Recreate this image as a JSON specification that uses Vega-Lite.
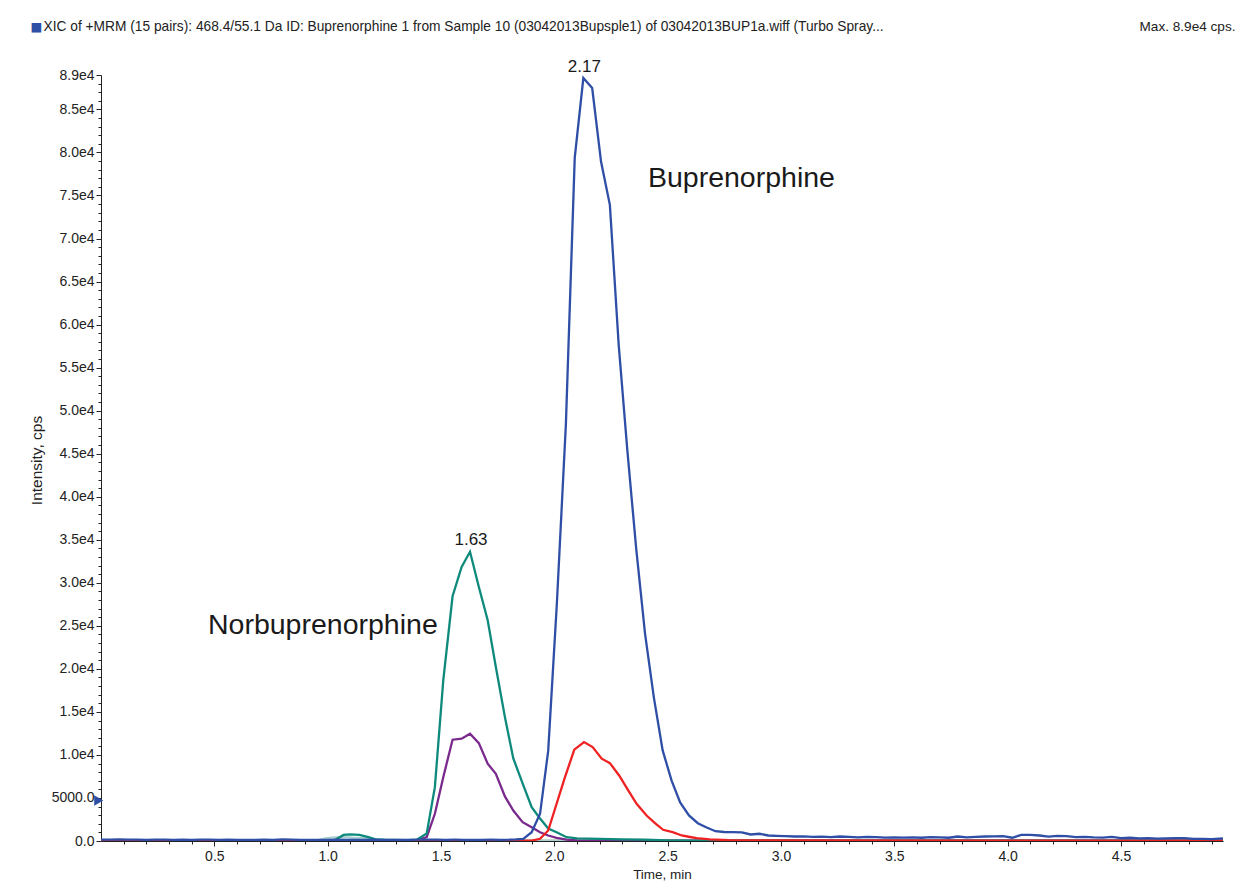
{
  "$schema": "https://vega.github.io/schema/vega-lite/v6.json",
  "width": 1122,
  "height": 766,
  "autosize": {"type": "none"},
  "padding": {"left": 101, "top": 75, "right": 36, "bottom": 49},
  "background": "white",
  "config": {"view": {"stroke": null}, "font": "Liberation Sans"},
  "datasets": {
    "series": [
      {"t": 0, "v": 0, "s": "Other2"}, {"t": 1, "v": 0, "s": "Other2"}, {"t": 2, "v": 0, "s": "Other2"}, {"t": 3, "v": 0, "s": "Other2"}, {"t": 4, "v": 0, "s": "Other2"}, {"t": 4.95, "v": 0, "s": "Other2"},

      {"t": 0, "v": 40, "s": "Other1"}, {"t": 0.5, "v": 40, "s": "Other1"}, {"t": 0.95, "v": 50, "s": "Other1"}, {"t": 0.99, "v": 300, "s": "Other1"}, {"t": 1.03, "v": 420, "s": "Other1"}, {"t": 1.07, "v": 440, "s": "Other1"}, {"t": 1.11, "v": 380, "s": "Other1"}, {"t": 1.15, "v": 350, "s": "Other1"}, {"t": 1.19, "v": 300, "s": "Other1"}, {"t": 1.23, "v": 150, "s": "Other1"}, {"t": 1.27, "v": 60, "s": "Other1"}, {"t": 1.5, "v": 40, "s": "Other1"}, {"t": 2.0, "v": 40, "s": "Other1"}, {"t": 3.0, "v": 40, "s": "Other1"}, {"t": 4.95, "v": 40, "s": "Other1"},

      {"t": 0, "v": 30, "s": "Norbup2"}, {"t": 0.5, "v": 30, "s": "Norbup2"}, {"t": 1.0, "v": 30, "s": "Norbup2"}, {"t": 1.39, "v": 60, "s": "Norbup2"}, {"t": 1.437, "v": 442, "s": "Norbup2"}, {"t": 1.473, "v": 3163, "s": "Norbup2"}, {"t": 1.51, "v": 7420, "s": "Norbup2"}, {"t": 1.551, "v": 11770, "s": "Norbup2"}, {"t": 1.591, "v": 11886, "s": "Norbup2"}, {"t": 1.628, "v": 12467, "s": "Norbup2"}, {"t": 1.667, "v": 11374, "s": "Norbup2"}, {"t": 1.706, "v": 8978, "s": "Norbup2"}, {"t": 1.742, "v": 7815, "s": "Norbup2"}, {"t": 1.782, "v": 5175, "s": "Norbup2"}, {"t": 1.819, "v": 3547, "s": "Norbup2"}, {"t": 1.86, "v": 2186, "s": "Norbup2"}, {"t": 1.9, "v": 1605, "s": "Norbup2"}, {"t": 1.937, "v": 1023, "s": "Norbup2"}, {"t": 1.973, "v": 640, "s": "Norbup2"}, {"t": 2.01, "v": 372, "s": "Norbup2"}, {"t": 2.054, "v": 150, "s": "Norbup2"}, {"t": 2.1, "v": 60, "s": "Norbup2"}, {"t": 2.5, "v": 30, "s": "Norbup2"}, {"t": 3.5, "v": 30, "s": "Norbup2"}, {"t": 4.95, "v": 30, "s": "Norbup2"},

      {"t": 0, "v": 60, "s": "Norbup1"}, {"t": 0.3, "v": 60, "s": "Norbup1"}, {"t": 0.6, "v": 60, "s": "Norbup1"}, {"t": 0.9, "v": 60, "s": "Norbup1"}, {"t": 1.03, "v": 80, "s": "Norbup1"}, {"t": 1.07, "v": 700, "s": "Norbup1"}, {"t": 1.1, "v": 760, "s": "Norbup1"}, {"t": 1.14, "v": 720, "s": "Norbup1"}, {"t": 1.18, "v": 450, "s": "Norbup1"}, {"t": 1.21, "v": 200, "s": "Norbup1"}, {"t": 1.25, "v": 150, "s": "Norbup1"}, {"t": 1.3, "v": 120, "s": "Norbup1"}, {"t": 1.35, "v": 100, "s": "Norbup1"}, {"t": 1.393, "v": 150, "s": "Norbup1"}, {"t": 1.437, "v": 872, "s": "Norbup1"}, {"t": 1.473, "v": 6257, "s": "Norbup1"}, {"t": 1.51, "v": 18666, "s": "Norbup1"}, {"t": 1.551, "v": 28435, "s": "Norbup1"}, {"t": 1.591, "v": 31843, "s": "Norbup1"}, {"t": 1.628, "v": 33600, "s": "Norbup1"}, {"t": 1.667, "v": 29517, "s": "Norbup1"}, {"t": 1.706, "v": 25644, "s": "Norbup1"}, {"t": 1.742, "v": 20213, "s": "Norbup1"}, {"t": 1.782, "v": 14398, "s": "Norbup1"}, {"t": 1.819, "v": 9595, "s": "Norbup1"}, {"t": 1.86, "v": 6687, "s": "Norbup1"}, {"t": 1.9, "v": 3931, "s": "Norbup1"}, {"t": 1.937, "v": 2617, "s": "Norbup1"}, {"t": 1.973, "v": 1454, "s": "Norbup1"}, {"t": 2.01, "v": 1023, "s": "Norbup1"}, {"t": 2.054, "v": 442, "s": "Norbup1"}, {"t": 2.1, "v": 300, "s": "Norbup1"}, {"t": 2.2, "v": 250, "s": "Norbup1"}, {"t": 2.3, "v": 200, "s": "Norbup1"}, {"t": 2.4, "v": 150, "s": "Norbup1"}, {"t": 2.5, "v": 80, "s": "Norbup1"}, {"t": 2.6, "v": 50, "s": "Norbup1"}, {"t": 3.5, "v": 40, "s": "Norbup1"}, {"t": 4.95, "v": 40, "s": "Norbup1"},

      {"t": 0, "v": 30, "s": "Bup2"}, {"t": 1.0, "v": 30, "s": "Bup2"}, {"t": 1.86, "v": 40, "s": "Bup2"}, {"t": 1.9, "v": 50, "s": "Bup2"}, {"t": 1.937, "v": 256, "s": "Bup2"}, {"t": 1.973, "v": 1221, "s": "Bup2"}, {"t": 2.01, "v": 4326, "s": "Bup2"}, {"t": 2.047, "v": 7420, "s": "Bup2"}, {"t": 2.088, "v": 10607, "s": "Bup2"}, {"t": 2.131, "v": 11490, "s": "Bup2"}, {"t": 2.169, "v": 10909, "s": "Bup2"}, {"t": 2.209, "v": 9560, "s": "Bup2"}, {"t": 2.245, "v": 9048, "s": "Bup2"}, {"t": 2.286, "v": 7618, "s": "Bup2"}, {"t": 2.326, "v": 5873, "s": "Bup2"}, {"t": 2.363, "v": 4326, "s": "Bup2"}, {"t": 2.407, "v": 2966, "s": "Bup2"}, {"t": 2.444, "v": 2070, "s": "Bup2"}, {"t": 2.48, "v": 1303, "s": "Bup2"}, {"t": 2.522, "v": 1023, "s": "Bup2"}, {"t": 2.562, "v": 640, "s": "Bup2"}, {"t": 2.598, "v": 465, "s": "Bup2"}, {"t": 2.628, "v": 326, "s": "Bup2"}, {"t": 2.686, "v": 200, "s": "Bup2"}, {"t": 2.77, "v": 100, "s": "Bup2"}, {"t": 3.0, "v": 60, "s": "Bup2"}, {"t": 4.0, "v": 50, "s": "Bup2"}, {"t": 4.95, "v": 50, "s": "Bup2"},

      {"t": 0.0, "v": 150, "s": "Bup1"}, {"t": 0.04, "v": 170, "s": "Bup1"}, {"t": 0.08, "v": 180, "s": "Bup1"}, {"t": 0.12, "v": 160, "s": "Bup1"}, {"t": 0.16, "v": 150, "s": "Bup1"}, {"t": 0.2, "v": 140, "s": "Bup1"}, {"t": 0.24, "v": 160, "s": "Bup1"}, {"t": 0.28, "v": 150, "s": "Bup1"}, {"t": 0.32, "v": 140, "s": "Bup1"}, {"t": 0.36, "v": 150, "s": "Bup1"}, {"t": 0.4, "v": 130, "s": "Bup1"}, {"t": 0.44, "v": 150, "s": "Bup1"}, {"t": 0.48, "v": 160, "s": "Bup1"}, {"t": 0.52, "v": 140, "s": "Bup1"}, {"t": 0.56, "v": 150, "s": "Bup1"}, {"t": 0.6, "v": 130, "s": "Bup1"}, {"t": 0.64, "v": 140, "s": "Bup1"}, {"t": 0.68, "v": 130, "s": "Bup1"}, {"t": 0.72, "v": 150, "s": "Bup1"}, {"t": 0.76, "v": 140, "s": "Bup1"}, {"t": 0.8, "v": 180, "s": "Bup1"}, {"t": 0.84, "v": 170, "s": "Bup1"}, {"t": 0.88, "v": 130, "s": "Bup1"}, {"t": 0.92, "v": 140, "s": "Bup1"}, {"t": 0.96, "v": 120, "s": "Bup1"}, {"t": 1.0, "v": 130, "s": "Bup1"}, {"t": 1.04, "v": 150, "s": "Bup1"}, {"t": 1.08, "v": 140, "s": "Bup1"}, {"t": 1.12, "v": 130, "s": "Bup1"}, {"t": 1.16, "v": 140, "s": "Bup1"}, {"t": 1.2, "v": 150, "s": "Bup1"}, {"t": 1.24, "v": 130, "s": "Bup1"}, {"t": 1.28, "v": 120, "s": "Bup1"}, {"t": 1.32, "v": 140, "s": "Bup1"}, {"t": 1.36, "v": 130, "s": "Bup1"}, {"t": 1.4, "v": 150, "s": "Bup1"}, {"t": 1.44, "v": 160, "s": "Bup1"}, {"t": 1.48, "v": 150, "s": "Bup1"}, {"t": 1.52, "v": 140, "s": "Bup1"}, {"t": 1.56, "v": 150, "s": "Bup1"}, {"t": 1.6, "v": 140, "s": "Bup1"}, {"t": 1.64, "v": 130, "s": "Bup1"}, {"t": 1.68, "v": 140, "s": "Bup1"}, {"t": 1.72, "v": 150, "s": "Bup1"}, {"t": 1.76, "v": 140, "s": "Bup1"}, {"t": 1.8, "v": 150, "s": "Bup1"}, {"t": 1.83, "v": 180, "s": "Bup1"},
      {"t": 1.863, "v": 256, "s": "Bup1"}, {"t": 1.9, "v": 1023, "s": "Bup1"}, {"t": 1.937, "v": 3163, "s": "Bup1"}, {"t": 1.973, "v": 10500, "s": "Bup1"}, {"t": 2.011, "v": 27505, "s": "Bup1"}, {"t": 2.051, "v": 48439, "s": "Bup1"}, {"t": 2.09, "v": 79375, "s": "Bup1"}, {"t": 2.128, "v": 88650, "s": "Bup1"}, {"t": 2.167, "v": 87481, "s": "Bup1"}, {"t": 2.206, "v": 78944, "s": "Bup1"}, {"t": 2.245, "v": 73908, "s": "Bup1"}, {"t": 2.284, "v": 57627, "s": "Bup1"}, {"t": 2.322, "v": 45415, "s": "Bup1"}, {"t": 2.361, "v": 34018, "s": "Bup1"}, {"t": 2.4, "v": 24132, "s": "Bup1"}, {"t": 2.439, "v": 16689, "s": "Bup1"}, {"t": 2.478, "v": 10525, "s": "Bup1"}, {"t": 2.517, "v": 7036, "s": "Bup1"}, {"t": 2.555, "v": 4478, "s": "Bup1"}, {"t": 2.594, "v": 2966, "s": "Bup1"}, {"t": 2.633, "v": 2070, "s": "Bup1"}, {"t": 2.672, "v": 1570, "s": "Bup1"}, {"t": 2.711, "v": 1140, "s": "Bup1"}, {"t": 2.749, "v": 1047, "s": "Bup1"}, {"t": 2.788, "v": 1023, "s": "Bup1"}, {"t": 2.827, "v": 1000, "s": "Bup1"}, {"t": 2.866, "v": 756, "s": "Bup1"}, {"t": 2.905, "v": 840, "s": "Bup1"}, {"t": 2.944, "v": 640, "s": "Bup1"},
      {"t": 2.98, "v": 600, "s": "Bup1"}, {"t": 3.02, "v": 560, "s": "Bup1"}, {"t": 3.06, "v": 520, "s": "Bup1"}, {"t": 3.1, "v": 540, "s": "Bup1"}, {"t": 3.14, "v": 480, "s": "Bup1"}, {"t": 3.18, "v": 500, "s": "Bup1"}, {"t": 3.22, "v": 460, "s": "Bup1"}, {"t": 3.26, "v": 520, "s": "Bup1"}, {"t": 3.3, "v": 470, "s": "Bup1"}, {"t": 3.34, "v": 430, "s": "Bup1"}, {"t": 3.38, "v": 480, "s": "Bup1"}, {"t": 3.42, "v": 440, "s": "Bup1"}, {"t": 3.46, "v": 400, "s": "Bup1"}, {"t": 3.5, "v": 430, "s": "Bup1"}, {"t": 3.54, "v": 390, "s": "Bup1"}, {"t": 3.58, "v": 420, "s": "Bup1"}, {"t": 3.62, "v": 380, "s": "Bup1"}, {"t": 3.66, "v": 460, "s": "Bup1"}, {"t": 3.7, "v": 420, "s": "Bup1"}, {"t": 3.74, "v": 380, "s": "Bup1"}, {"t": 3.78, "v": 520, "s": "Bup1"}, {"t": 3.82, "v": 430, "s": "Bup1"}, {"t": 3.86, "v": 480, "s": "Bup1"}, {"t": 3.9, "v": 520, "s": "Bup1"}, {"t": 3.94, "v": 540, "s": "Bup1"}, {"t": 3.98, "v": 560, "s": "Bup1"}, {"t": 4.02, "v": 380, "s": "Bup1"}, {"t": 4.06, "v": 700, "s": "Bup1"}, {"t": 4.1, "v": 720, "s": "Bup1"}, {"t": 4.14, "v": 640, "s": "Bup1"}, {"t": 4.18, "v": 500, "s": "Bup1"}, {"t": 4.22, "v": 600, "s": "Bup1"}, {"t": 4.26, "v": 560, "s": "Bup1"}, {"t": 4.3, "v": 440, "s": "Bup1"}, {"t": 4.34, "v": 480, "s": "Bup1"}, {"t": 4.38, "v": 420, "s": "Bup1"}, {"t": 4.42, "v": 400, "s": "Bup1"}, {"t": 4.46, "v": 470, "s": "Bup1"}, {"t": 4.5, "v": 330, "s": "Bup1"}, {"t": 4.54, "v": 380, "s": "Bup1"}, {"t": 4.58, "v": 300, "s": "Bup1"}, {"t": 4.62, "v": 340, "s": "Bup1"}, {"t": 4.66, "v": 280, "s": "Bup1"}, {"t": 4.7, "v": 300, "s": "Bup1"}, {"t": 4.74, "v": 340, "s": "Bup1"}, {"t": 4.78, "v": 330, "s": "Bup1"}, {"t": 4.82, "v": 250, "s": "Bup1"}, {"t": 4.86, "v": 240, "s": "Bup1"}, {"t": 4.9, "v": 220, "s": "Bup1"}, {"t": 4.95, "v": 300, "s": "Bup1"}
    ],
    "marker": [{"t": -0.01, "v": 4700}],
    "peaks": [{"t": 2.128, "v": 88650, "label": "2.17"}, {"t": 1.628, "v": 33600, "label": "1.63"}],
    "names": [{"t": 2.413, "v": 76000, "label": "Buprenorphine"}, {"t": 0.472, "v": 24016, "label": "Norbuprenorphine"}]
  },
  "resolve": {"axis": {"x": "independent", "y": "independent"}},
  "layer": [
    {
      "data": {"name": "series"},
      "mark": {"type": "line", "strokeWidth": 2.3, "clip": true},
      "encoding": {
        "x": {"field": "t", "type": "quantitative", "scale": {"domain": [0, 4.95], "nice": false, "zero": false},
          "axis": {"orient": "bottom", "values": [0.5, 1, 1.5, 2, 2.5, 3, 3.5, 4, 4.5], "format": ".1f", "tickSize": 5, "labelPadding": 3, "labelFontSize": 14, "labelColor": "#222", "domainColor": "#222", "tickColor": "#222", "grid": false, "labelFlush": false,
            "title": "Time, min", "titleFontSize": 13.5, "titleFontWeight": "normal", "titleColor": "#222", "titleY": 33, "titleBaseline": "middle"}},
        "y": {"field": "v", "type": "quantitative", "scale": {"domain": [0, 89000], "nice": false},
          "axis": {"orient": "left", "values": [0, 5000, 10000, 15000, 20000, 25000, 30000, 35000, 40000, 45000, 50000, 55000, 60000, 65000, 70000, 75000, 80000, 85000, 89000],
            "labelExpr": "datum.value == 0 ? '0.0' : datum.value == 5000 ? '5000.0' : format(datum.value / 10000, '.1f') + 'e4'",
            "tickSize": 5, "labelPadding": 2, "labelFontSize": 14, "labelColor": "#222", "domainColor": "#222", "tickColor": "#222", "grid": false, "labelOverlap": false, "labelBaseline": "middle",
            "title": "Intensity, cps", "titleX": -65, "titleY": 385, "titleBaseline": "middle", "titleFontSize": 15.5, "titleFontWeight": "normal", "titleColor": "#222"}},
        "color": {"field": "s", "type": "nominal", "legend": null,
          "scale": {"domain": ["Other2", "Other1", "Norbup2", "Norbup1", "Bup2", "Bup1"], "range": ["#8a7f2c", "#a9cfd0", "#7a2a8c", "#0e8a7c", "#ee2222", "#2f4ea6"]}}
      }
    },
    {
      "data": {"name": "marker"},
      "mark": {"type": "point", "shape": "triangle-right", "filled": true, "size": 110, "color": "#2f4ea6", "opacity": 1},
      "encoding": {
        "x": {"field": "t", "type": "quantitative",
          "axis": {"orient": "bottom", "values": [0.1, 0.2, 0.3, 0.4, 0.6, 0.7, 0.8, 0.9, 1.1, 1.2, 1.3, 1.4, 1.6, 1.7, 1.8, 1.9, 2.1, 2.2, 2.3, 2.4, 2.6, 2.7, 2.8, 2.9, 3.1, 3.2, 3.3, 3.4, 3.6, 3.7, 3.8, 3.9, 4.1, 4.2, 4.3, 4.4, 4.6, 4.7, 4.8, 4.9], "labels": false, "domain": false, "grid": false, "tickSize": 3, "tickColor": "#222", "title": null}},
        "y": {"field": "v", "type": "quantitative",
          "axis": {"orient": "left", "values": [1000, 2000, 3000, 4000, 6000, 7000, 8000, 9000, 11000, 12000, 13000, 14000, 16000, 17000, 18000, 19000, 21000, 22000, 23000, 24000, 26000, 27000, 28000, 29000, 31000, 32000, 33000, 34000, 36000, 37000, 38000, 39000, 41000, 42000, 43000, 44000, 46000, 47000, 48000, 49000, 51000, 52000, 53000, 54000, 56000, 57000, 58000, 59000, 61000, 62000, 63000, 64000, 66000, 67000, 68000, 69000, 71000, 72000, 73000, 74000, 76000, 77000, 78000, 79000, 81000, 82000, 83000, 84000, 86000, 87000, 88000], "labels": false, "domain": false, "grid": false, "tickSize": 3, "tickColor": "#222",
            "title": "■", "titleX": -65, "titleY": -49, "titleAngle": 0, "titleAlign": "center", "titleBaseline": "middle", "titleColor": "#2f4ea6", "titleFont": "DejaVu Sans", "titleFontSize": 12.5, "titleFontWeight": "normal"}}
      }
    },
    {
      "data": {"name": "peaks"},
      "mark": {"type": "text", "fontSize": 17, "align": "center", "baseline": "alphabetic", "dy": -6.5, "dx": 1, "color": "#1a1a1a"},
      "encoding": {
        "x": {"field": "t", "type": "quantitative",
          "axis": {"orient": "top", "domain": false, "ticks": false, "labels": false, "grid": false,
            "title": "XIC of +MRM (15 pairs): 468.4/55.1 Da ID: Buprenorphine 1 from Sample 10 (03042013Bupsple1) of 03042013BUP1a.wiff (Turbo Spray...",
            "titleX": -58, "titleY": -49, "titleAlign": "left", "titleBaseline": "middle", "titleFontSize": 13.75, "titleFontWeight": "normal", "titleColor": "#222"}},
        "y": {"field": "v", "type": "quantitative", "axis": null},
        "text": {"field": "label", "type": "nominal"}
      }
    },
    {
      "data": {"name": "names"},
      "mark": {"type": "text", "fontSize": 28.5, "align": "left", "baseline": "alphabetic", "color": "#1a1a1a"},
      "encoding": {
        "x": {"field": "t", "type": "quantitative",
          "axis": {"orient": "top", "domain": false, "ticks": false, "labels": false, "grid": false,
            "title": "Max. 8.9e4 cps.", "titleX": 1134, "titleY": -49, "titleAlign": "right", "titleBaseline": "middle", "titleFontSize": 13.6, "titleFontWeight": "normal", "titleColor": "#222"}},
        "y": {"field": "v", "type": "quantitative", "axis": null},
        "text": {"field": "label", "type": "nominal"}
      }
    }
  ]
}
